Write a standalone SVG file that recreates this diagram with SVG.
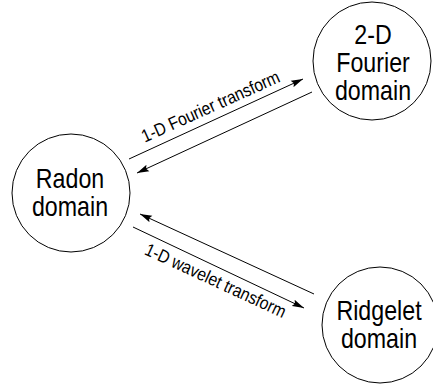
<svg xmlns="http://www.w3.org/2000/svg" width="433" height="388" viewBox="0 0 433 388">
<style>
.node{fill:#fff;stroke:#000;stroke-width:1}
.nt{font-family:"Liberation Sans",Arial,sans-serif;font-size:27px;text-anchor:middle;fill:#000}
.lt{font-family:"Liberation Sans",Arial,sans-serif;font-size:18px;text-anchor:middle;fill:#000}
.edge{stroke:#000;stroke-width:1;fill:none;marker-end:url(#ah)}
</style>
<defs>
<marker id="ah" viewBox="0 0 12 8" refX="12" refY="4" markerWidth="12" markerHeight="8" markerUnits="userSpaceOnUse" orient="auto">
<path d="M0,0.5 L12,4 L0,7.5 L2,4 Z" fill="#000"/>
</marker>
</defs>
<rect width="433" height="388" fill="#fff"/>
<g id="connectors">
<line class="edge" x1="129" y1="159" x2="303" y2="79"/>
<line class="edge" x1="312" y1="92" x2="137" y2="173"/>
<line class="edge" x1="314" y1="294" x2="140" y2="214"/>
<line class="edge" x1="133" y1="227" x2="304" y2="308"/>
<text class="lt" transform="translate(213,112) rotate(-24.2) scale(0.87,1)">1-D Fourier transform</text>
<text class="lt" transform="translate(213,286) rotate(24.8) scale(0.87,1)">1-D wavelet transform</text>
</g>
<g id="radon">
<circle class="node" cx="71" cy="193" r="59"/>
<g transform="translate(70,0) scale(0.86,1)">
<text class="nt" x="0" y="188">Radon</text>
<text class="nt" x="0" y="216">domain</text>
</g>
</g>
<g id="fourier">
<circle class="node" cx="372" cy="61" r="59"/>
<g transform="translate(373,0) scale(0.86,1)">
<text class="nt" x="0" y="44">2-D</text>
<text class="nt" x="0" y="72">Fourier</text>
<text class="nt" x="0" y="100">domain</text>
</g>
</g>
<g id="ridgelet">
<circle class="node" cx="380" cy="325" r="58"/>
<g transform="translate(379,0) scale(0.86,1)">
<text class="nt" x="0" y="320">Ridgelet</text>
<text class="nt" x="0" y="348">domain</text>
</g>
</g>
</svg>
